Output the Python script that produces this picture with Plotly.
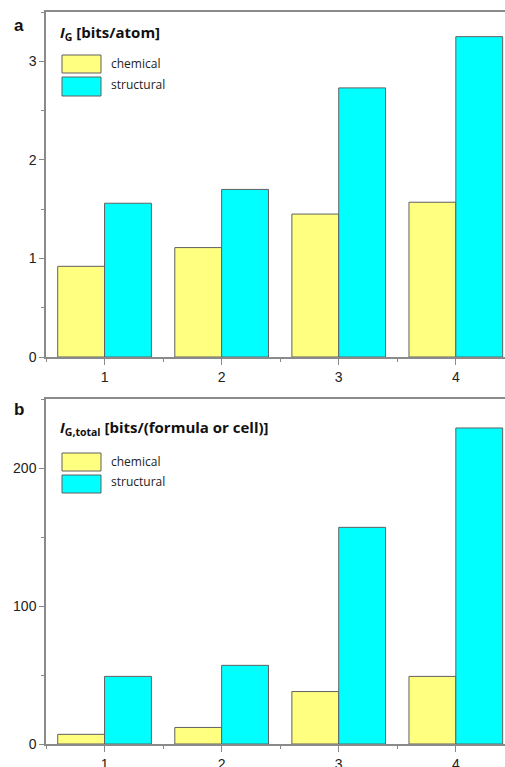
import plotly.graph_objects as go
from plotly.subplots import make_subplots

groups = [1, 2, 3, 4]
series_names = ["chemical", "structural"]
# panel a: I_G [bits/atom]
a_chemical = [0.92, 1.11, 1.45, 1.57]
a_structural = [1.56, 1.70, 2.73, 3.25]
# panel b: I_G,total [bits/(formula or cell)]
b_chemical = [7, 12, 38, 49]
b_structural = [49, 57, 157, 229]

colors = {"chemical": "#FFFF80", "structural": "#00FFFF"}
W, H = 505, 767

fig = make_subplots(rows=2, cols=1, vertical_spacing=0.05)

for row, (chem, struc) in enumerate([(a_chemical, a_structural), (b_chemical, b_structural)], start=1):
    for name, vals in zip(series_names, [chem, struc]):
        fig.add_trace(go.Bar(x=groups, y=vals, name=name, showlegend=False,
                             marker=dict(color=colors[name], line=dict(color="#606060", width=1))),
                      row=row, col=1)

fig.update_layout(width=W, height=H, margin=dict(l=0, r=0, t=0, b=0, autoexpand=False),
                  paper_bgcolor="white", plot_bgcolor="white",
                  barmode="group", bargap=0.2, bargroupgap=0)

def py(px):
    return 1 - px / H

def pxx(px):
    return px / W

x0 = pxx(46)
fig.layout.xaxis.domain = [x0, 1]
fig.layout.xaxis2.domain = [x0, 1]
fig.layout.yaxis.domain = [py(357), py(12)]
fig.layout.yaxis2.domain = [py(744), py(399)]

axcol = "#8a8a8a"
tickfont = dict(family="Liberation Sans, Arial", size=14, color="#222")
for xa in ["xaxis", "xaxis2"]:
    fig.layout[xa].update(range=[0.5, 4.42], tickvals=groups, ticktext=[str(g) for g in groups],
                          automargin=False,
                          showgrid=False, zeroline=False, showline=True, linecolor=axcol, linewidth=1.5,
                          mirror=True, ticks="outside", ticklen=6, tickcolor=axcol, tickwidth=1,
                          tickfont=tickfont,
                          minor=dict(ticks="outside", ticklen=3, tickcolor=axcol, dtick=0.5, tick0=0.5))
fig.layout.yaxis.update(range=[0, 3.5], tickvals=[0, 1, 2, 3],
                        minor=dict(ticks="outside", ticklen=3, tickcolor=axcol, dtick=0.5, tick0=0))
fig.layout.yaxis2.update(range=[0, 250], tickvals=[0, 100, 200],
                         minor=dict(ticks="outside", ticklen=3, tickcolor=axcol, dtick=50, tick0=0))
for ya in ["yaxis", "yaxis2"]:
    fig.layout[ya].update(showgrid=False, zeroline=False, showline=True, linecolor=axcol, linewidth=1.5,
                          automargin=False,
                          ticks="outside", ticklen=5, tickcolor=axcol, tickwidth=1,
                          tickfont=tickfont)

txtfont = "Open Sans, Noto Sans, sans-serif"
annotations = []
shapes = []
panels = [
    dict(label="a", label_y=25, title="<b><i>I</i><sub>G</sub> [bits/atom]</b>", title_y=33,
         boxes=[(55, 73), (77, 96)], texts=[63, 84]),
    dict(label="b", label_y=409, title="<b><i>I</i><sub>G,total</sub> [bits/(formula or cell)]</b>", title_y=428,
         boxes=[(453, 471), (475, 493)], texts=[461, 481]),
]
for p in panels:
    annotations.append(dict(text="<b>" + p["label"] + "</b>", x=pxx(12), y=py(p["label_y"]),
                            xref="paper", yref="paper", xanchor="left", yanchor="middle", showarrow=False,
                            font=dict(family="Liberation Sans, Arial", size=17, color="#111")))
    annotations.append(dict(text=p["title"], x=pxx(58), y=py(p["title_y"]),
                            xref="paper", yref="paper", xanchor="left", yanchor="middle", showarrow=False,
                            font=dict(family=txtfont, size=15, color="#111")))
    for name, (top, bot), ty in zip(series_names, p["boxes"], p["texts"]):
        shapes.append(dict(type="rect", xref="paper", yref="paper", x0=pxx(62), x1=pxx(101),
                           y0=py(bot), y1=py(top), fillcolor=colors[name],
                           line=dict(color="#606060", width=1)))
        annotations.append(dict(text=name, x=pxx(109), y=py(ty), xref="paper", yref="paper",
                                xanchor="left", yanchor="middle", showarrow=False,
                                font=dict(family=txtfont, size=12, color="#222")))

fig.update_layout(annotations=annotations, shapes=shapes)
fig.write_html("out.html", config={"displayModeBar": False},
               post_script="document.body.style.margin='0';document.body.style.overflow='hidden';")
